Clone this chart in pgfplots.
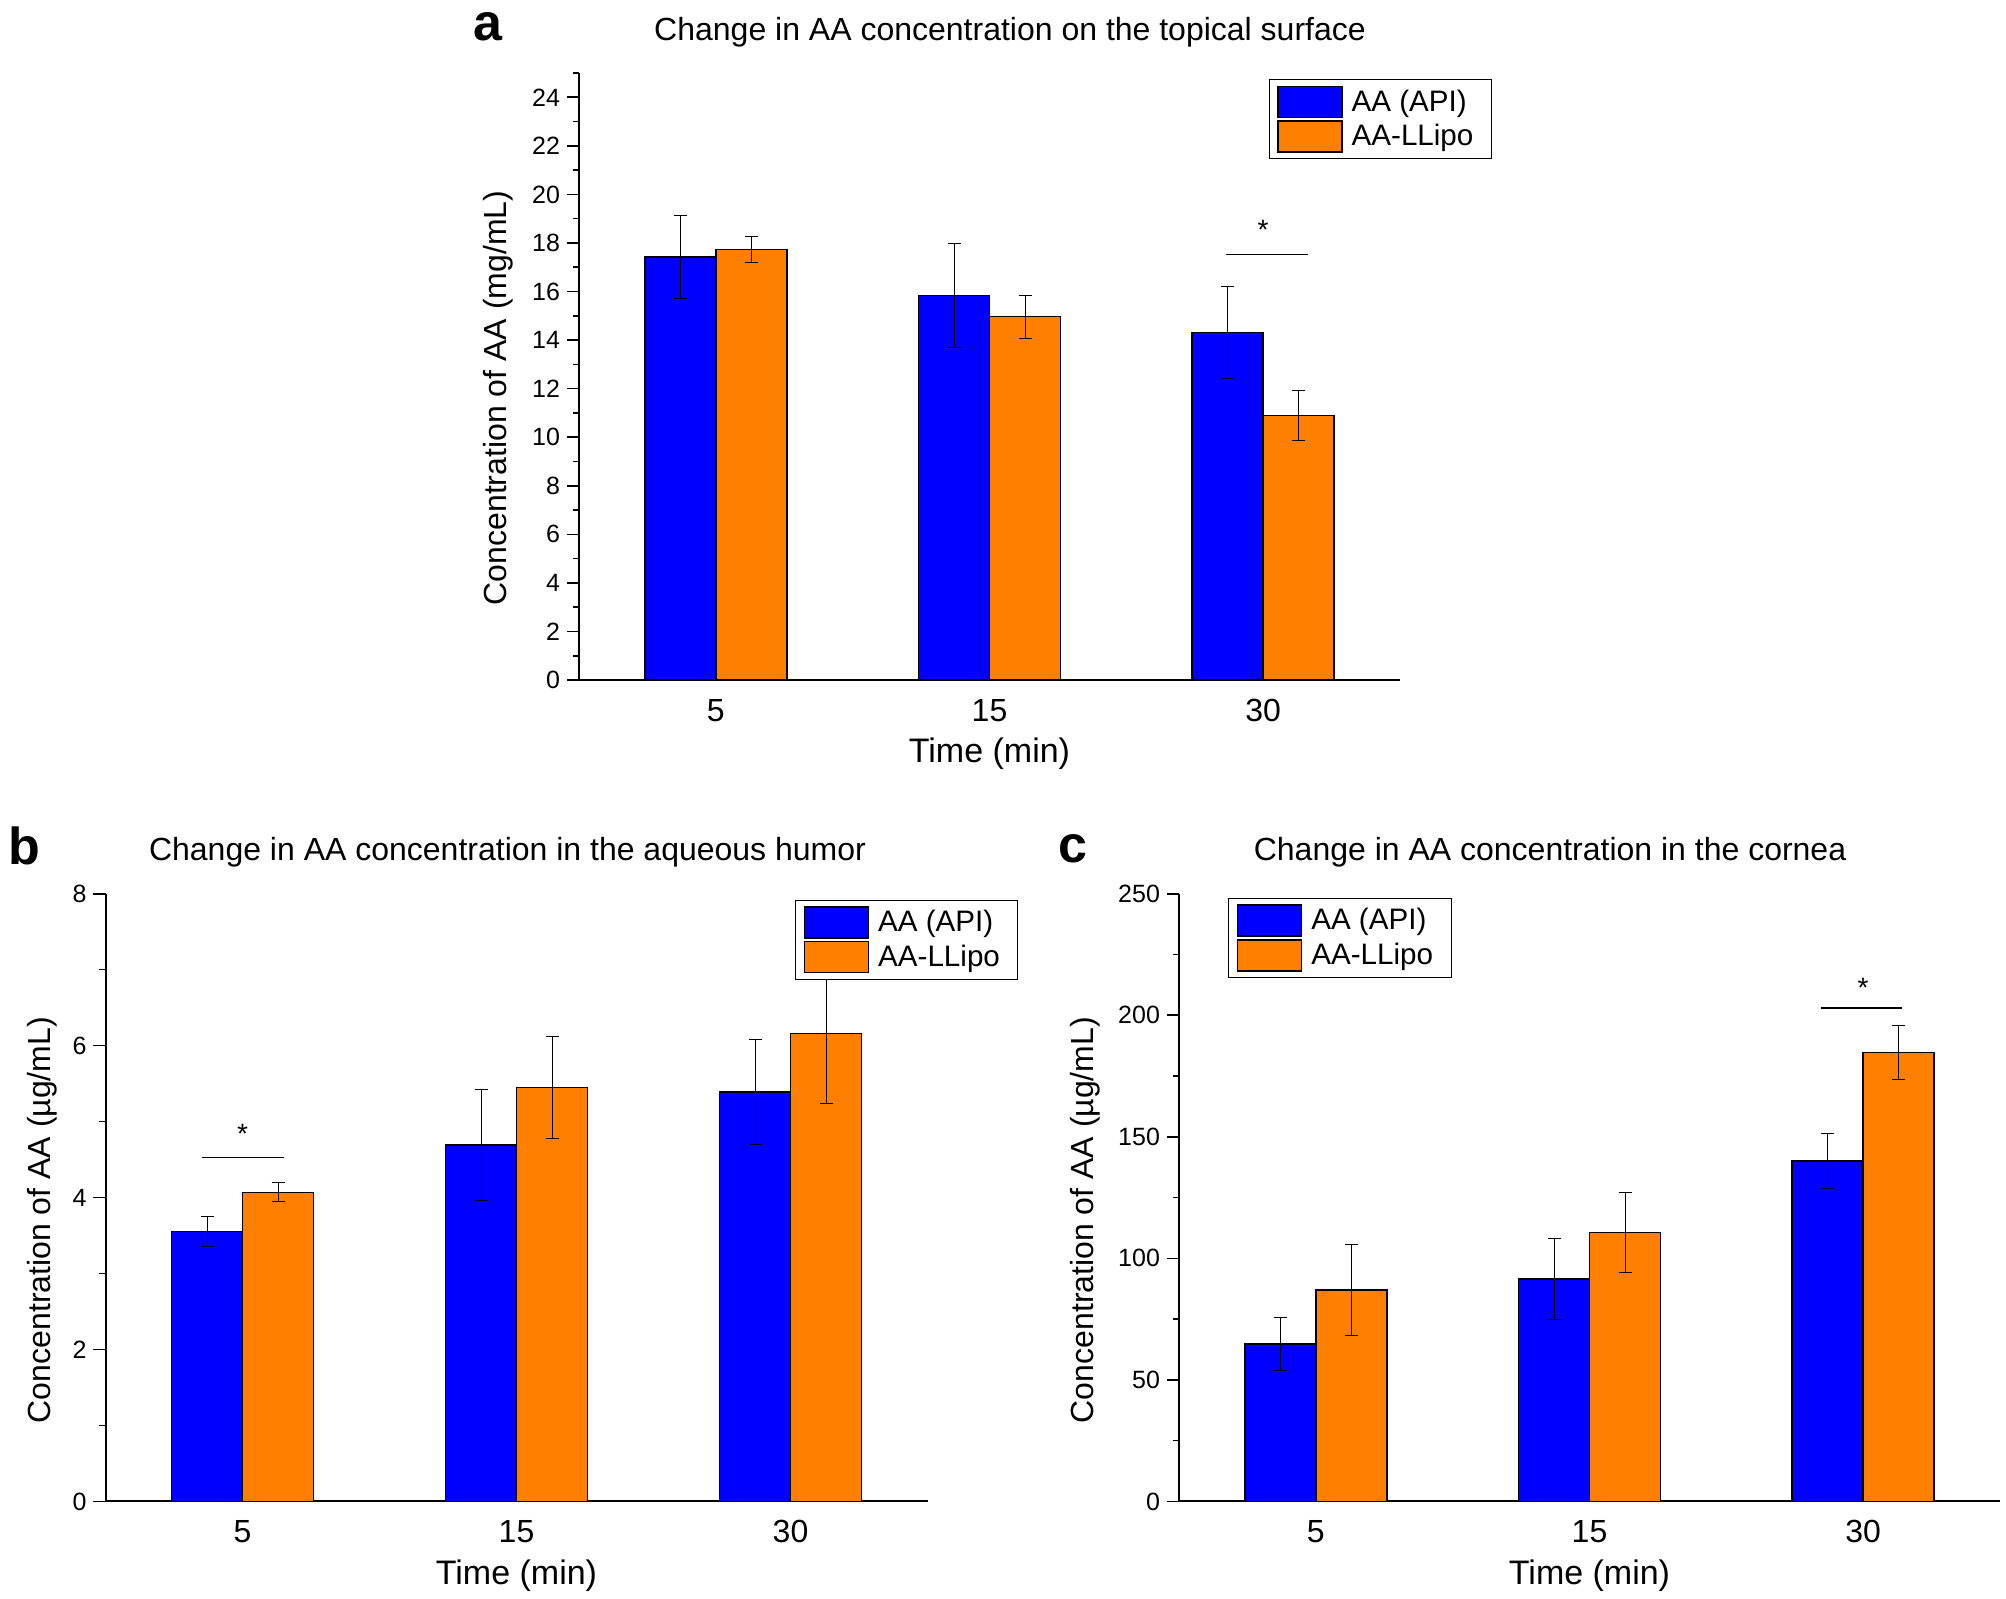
\documentclass[border=0pt]{standalone}
\usepackage{fontspec}
\setmainfont{Liberation Sans}
\usepackage{pgfplots}
\pgfplotsset{compat=1.18}
\definecolor{apiblue}{RGB}{0,0,255}
\definecolor{lipoorange}{RGB}{255,128,0}

\pgfplotsset{
  panel/.style={
    scale only axis,
    width=410.5pt, height=303.5pt,
    anchor=south west,
    axis lines=left,
    axis line style={-, line width=1pt},
    ybar, bar width=35.5pt,
    xmin=-0.5, xmax=2.5,
    xtick={0,1,2}, xticklabels={5,15,30},
    major x tick style={draw=none},
    tick align=outside,
    major tick length=6pt, minor tick length=3pt,
    tick style={black, line width=0.8pt},
    /pgf/number format/assume math mode=true,
    yticklabel style={font=\fontsize{12.5}{12.5}\selectfont},
    xticklabel style={font=\fontsize{16}{16}\selectfont, anchor=base, yshift=-14.5pt},
    xlabel={Time (min)},
    xlabel style={font=\fontsize{17}{17}\selectfont, at={([yshift=-41.5pt]axis description cs:0.5,0)}, anchor=base},
    ylabel style={font=\fontsize{16}{16}\selectfont, anchor=center},
    legend style={font=\fontsize{14.8}{14.8}\selectfont, draw=black, line width=0.5pt,
      anchor=north west, inner xsep=4pt, inner ysep=3pt, row sep=1pt,
      cells={anchor=west}},
    legend image code/.code={\draw[#1, line width=0.8pt] (0pt,-7.75pt) rectangle (32pt,7.75pt);
      \path (34.5pt,0pt);},
    error bars/y dir=both, error bars/y explicit,
    error bars/error mark=|,
    error bars/error mark options={black, mark size=3.25pt, line width=0.5pt},
    error bars/error bar style={black, line width=0.5pt},
  },
  api/.style={fill=apiblue, draw=black, line width=0.7pt, bar shift=-17.75pt},
  lipo/.style={fill=lipoorange, draw=black, line width=0.7pt, bar shift=17.75pt},
}

\begin{document}
\begin{tikzpicture}
\path (0,0) rectangle (1003pt,798pt);

% panel a
\node[font=\fontsize{26}{26}\selectfont\bfseries, inner sep=0pt] at (243.75pt,784.75pt) {a};
\node[font=\fontsize{16}{16}\selectfont, anchor=base, inner sep=0pt] at (505pt,777.5pt) {Change in AA concentration on the topical surface};
\begin{axis}[panel, at={(289.5pt,458pt)},
  ymin=0, ymax=25, ytick={0,2,...,24}, minor ytick={1,3,...,25},
  ylabel={Concentration of AA (mg/mL)},
  ylabel style={at={([xshift=-40.5pt]axis description cs:0,0.4646)}},
  legend style={at={(0.84,0.99)}}]
\addplot[api] coordinates {(0,17.42) +- (0,1.70) (1,15.84) +- (0,2.13) (2,14.32) +- (0,1.90)};
\addplot[lipo] coordinates {(0,17.72) +- (0,0.53) (1,14.96) +- (0,0.88) (2,10.90) +- (0,1.03)};
\legend{AA (API), AA-LLipo\rule{3pt}{0pt}}
\draw[black, line width=0.6pt] (axis cs:1.865,17.53) -- (axis cs:2.164,17.53);
\node[anchor=north, inner sep=0pt, font=\fontsize{14}{14}\selectfont] at (axis cs:2,18.94) {*};
\end{axis}

% panel b
\node[font=\fontsize{26}{26}\selectfont\bfseries, inner sep=0pt] at (12pt,375.25pt) {b};
\node[font=\fontsize{16}{16}\selectfont, anchor=base, inner sep=0pt] at (253.75pt,367.8pt) {Change in AA concentration in the aqueous humor};
\begin{axis}[panel, at={(52.75pt,47.3pt)}, width=411pt, height=303.85pt,
  ymin=0, ymax=8, ytick={0,2,...,8}, minor ytick={1,3,5,7},
  ylabel={Concentration of AA (\textmu g/mL)},
  ylabel style={at={([xshift=-31.75pt]axis description cs:0,0.463)}},
  legend style={at={(0.839,0.99)}}]
\addplot[api] coordinates {(0,3.55) +- (0,0.20) (1,4.69) +- (0,0.73) (2,5.39) +- (0,0.69)};
\addplot[lipo] coordinates {(0,4.07) +- (0,0.125) (1,5.45) +- (0,0.67) (2,6.16) +- (0,0.92)};
\legend{AA (API), AA-LLipo\rule{3pt}{0pt}}
\draw[black, line width=0.6pt] (axis cs:-0.146,4.53) -- (axis cs:0.153,4.53);
\node[anchor=north, inner sep=0pt, font=\fontsize{14}{14}\selectfont] at (axis cs:0,4.97) {*};
\end{axis}

% panel c
\node[font=\fontsize{26}{26}\selectfont\bfseries, inner sep=0pt] at (536.25pt,373.5pt) {c};
\node[font=\fontsize{16}{16}\selectfont, anchor=base, inner sep=0pt] at (775pt,367.8pt) {Change in AA concentration in the cornea};
\begin{axis}[panel, at={(589.5pt,47.3pt)}, height=303.85pt,
  ymin=0, ymax=250, ytick={0,50,...,250}, minor ytick={25,75,...,225},
  ylabel={Concentration of AA (\textmu g/mL)},
  ylabel style={at={([xshift=-47pt]axis description cs:0,0.463)}},
  legend style={at={(0.06,0.993)}}]
\addplot[api] coordinates {(0,64.8) +- (0,11.0) (1,91.5) +- (0,16.7) (2,140.0) +- (0,11.2)};
\addplot[lipo] coordinates {(0,87.0) +- (0,18.6) (1,110.7) +- (0,16.4) (2,184.6) +- (0,11.2)};
\legend{AA (API), AA-LLipo\rule{3pt}{0pt}}
\draw[black, line width=0.6pt] (axis cs:1.847,203) -- (axis cs:2.142,203);
\node[anchor=north, inner sep=0pt, font=\fontsize{14}{14}\selectfont] at (axis cs:2,215.3) {*};
\end{axis}
\end{tikzpicture}
\end{document}
